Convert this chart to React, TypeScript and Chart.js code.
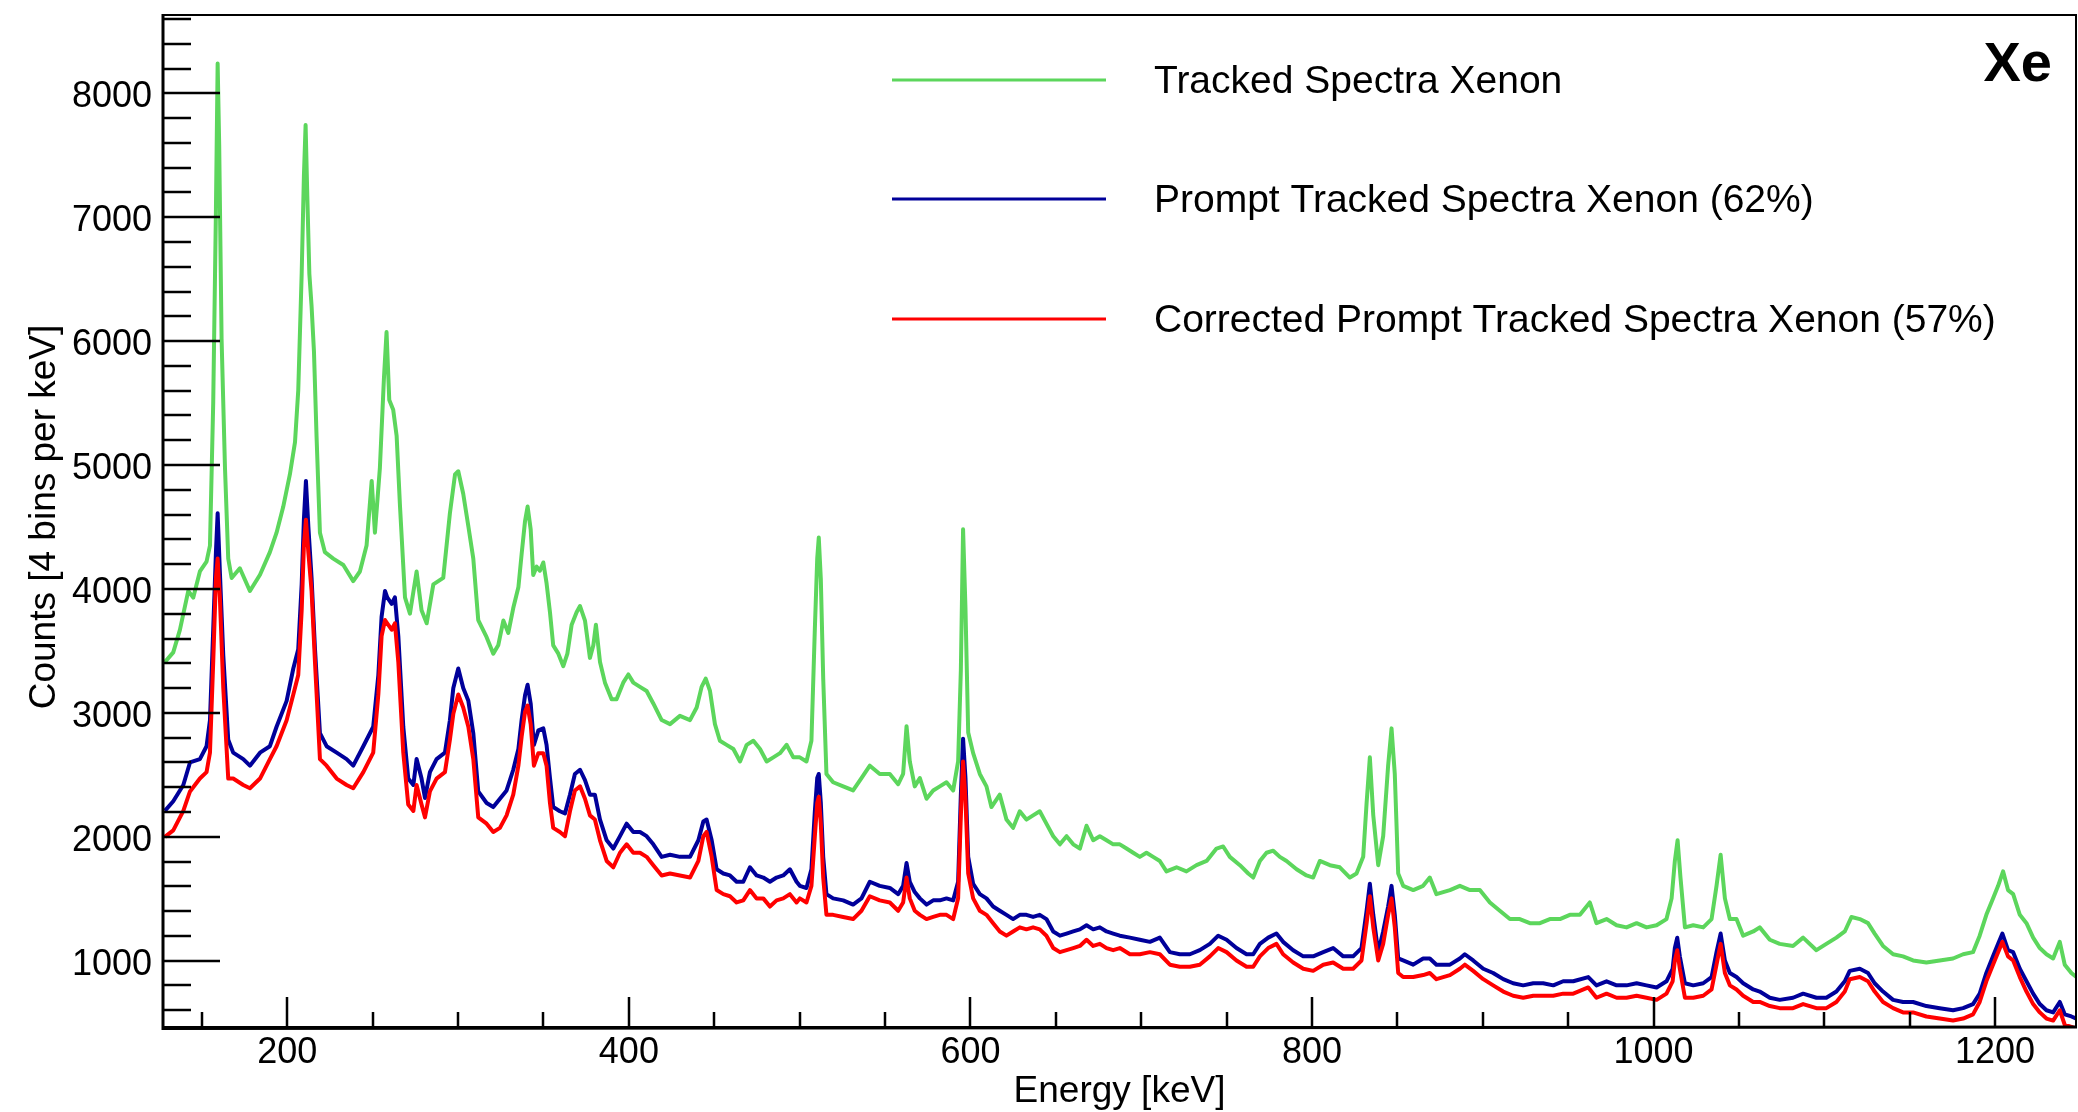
import React, { useEffect, useRef } from "react";
import { Chart, registerables } from "chart.js";

Chart.register(...registerables);

// Energy axis (keV) and counts for the full tracked spectrum
const totalEnergy = [
  128.3, 133.2, 137.1, 142.0, 144.9, 148.8, 152.7, 154.7, 156.6, 158.2,
  159.2, 160.1, 161.5, 163.5, 165.4, 167.4, 172.2, 178.1, 184.0, 189.8,
  193.7, 197.6, 201.5, 204.5, 206.4, 208.4, 209.7, 210.7, 211.7, 212.9,
  214.2, 215.6, 217.1, 219.1, 222.0, 226.9, 232.8, 238.6, 242.5, 246.4,
  249.4, 251.3, 254.2, 256.6, 258.1, 259.7, 262.0, 264.0, 266.0, 268.9,
  271.8, 275.7, 278.6, 281.6, 285.5, 291.3, 295.2, 298.2, 300.1, 303.0,
  306.0, 308.9, 311.8,
  316.7, 320.6, 323.5, 326.5, 329.4, 332.3, 335.3, 337.2, 339.2, 340.7,
  342.5, 344.0, 346.0, 347.9, 349.9, 351.8, 353.8, 355.7, 358.7, 361.6,
  364.0, 366.5, 369.4, 371.4, 374.3, 377.2, 379.2, 380.7, 383.1, 386.0,
  389.9, 392.8, 396.7, 399.7, 402.6, 406.5, 410.4, 414.3, 419.2, 424.1,
  429.9, 435.8, 439.7, 442.6, 445.0, 447.5, 450.4, 453.3, 457.2, 461.2,
  465.1, 469.0, 472.9, 476.8, 480.7, 484.6, 488.5, 492.4, 496.3,
  500.1, 504.0, 506.9, 508.9, 510.3, 511.2, 512.4, 513.8, 515.7, 519.6,
  525.5, 531.3, 536.2, 541.1, 546.9, 552.8, 557.7, 560.6, 562.6, 564.5,
  567.4, 570.4, 574.3, 578.2, 582.1, 586.0, 589.9, 592.8, 594.4, 595.7,
  597.1, 598.7, 601.6, 605.5, 609.4, 612.3, 617.2, 621.1, 625.0, 628.9,
  632.8, 636.7, 640.6, 644.5, 648.5, 652.4, 656.3, 660.2, 664.1, 668.0,
  671.9, 675.8, 679.7, 683.6,
  687.5, 691.4, 695.3, 699.2, 703.1, 707.0, 710.9, 714.8, 720.7, 726.5,
  732.4, 738.3, 744.1, 748.0, 751.9, 757.8, 762.7, 765.6, 769.5, 773.4,
  777.3, 781.2, 785.1, 791.0, 796.8, 800.7, 804.6, 810.5, 816.3, 822.2,
  826.1, 830.0, 832.0, 833.9, 835.9, 838.8, 841.7, 844.6, 846.6, 848.5,
  850.5, 853.4, 859.3, 865.1, 869.0, 872.9,
  880.8, 886.6, 892.5, 898.3, 904.2, 910.0, 915.9, 921.7, 927.6, 933.5,
  939.3, 945.2, 951.0, 956.9, 962.7, 966.6, 972.5, 978.4, 984.2, 990.1,
  995.9, 1001.8, 1007.6, 1010.6, 1012.5, 1014.1, 1015.8, 1018.4, 1023.3, 1029.1,
  1034.0, 1036.9, 1039.3, 1041.8, 1044.7, 1048.6, 1052.5, 1058.4,
  1062.2, 1068.1, 1073.9, 1081.7, 1087.6, 1095.4, 1101.2, 1107.1, 1112.0, 1115.9,
  1120.8, 1125.6, 1129.5, 1134.4, 1140.3, 1146.1, 1152.0, 1159.8, 1167.6, 1175.4,
  1181.3, 1187.1, 1191.0, 1194.9, 1198.8, 1201.8, 1204.7, 1207.6, 1210.6, 1214.5,
  1218.4, 1222.3, 1226.2, 1230.1, 1234.0, 1237.9, 1240.8, 1244.7, 1247.6,
];

const totalCounts = [
  3410, 3488, 3670, 3985, 3930, 4141, 4220, 4350, 5500, 7065,
  8240, 7587, 6020, 4976, 4245, 4089, 4167, 3984, 4115, 4297,
  4454, 4663, 4924, 5185, 5603, 6543, 7326, 7744, 7170, 6543,
  6282, 5916, 5237, 4454, 4297, 4245, 4193, 4063, 4141, 4350,
  4872, 4454, 4976, 5707, 6073, 5525, 5446, 5237, 4663, 3932,
  3801, 4141, 3828, 3723, 4037, 4089, 4611, 4924, 4950, 4768,
  4506, 4245, 3749,
  3611, 3478, 3545, 3745, 3645, 3846, 4013, 4281, 4548, 4665,
  4481, 4113, 4180, 4147, 4214, 4047, 3812, 3545, 3478, 3377,
  3478, 3712, 3812, 3862, 3745, 3444, 3545, 3712, 3411, 3244,
  3110, 3110, 3244, 3310, 3244, 3210, 3177, 3076, 2942, 2909,
  2976, 2942, 3043, 3210, 3277, 3177, 2909, 2775, 2742, 2708,
  2608, 2742, 2775, 2708, 2608, 2641, 2675, 2742, 2641,
  2641, 2608, 2775, 3678, 4247, 4415, 4080, 3277, 2507, 2440,
  2407, 2374, 2474, 2574, 2507, 2507, 2424, 2507, 2892, 2608,
  2407, 2474, 2307, 2374, 2407, 2440, 2374, 2608, 3344, 4481,
  3846, 2842, 2675, 2507, 2407, 2240, 2340, 2139, 2072, 2206,
  2139, 2173, 2206, 2106, 2005, 1939, 2005, 1939, 1905, 2089,
  1972, 2005, 1972, 1939,
  1939, 1905, 1871, 1838, 1871, 1838, 1805, 1721, 1754, 1721,
  1771, 1805, 1905, 1922, 1838, 1771, 1704, 1671, 1805, 1871,
  1888, 1838, 1805, 1738, 1688, 1671, 1805, 1771, 1754, 1671,
  1704, 1838, 2273, 2641, 2173, 1771, 2005, 2574, 2875, 2507,
  1704, 1604, 1570, 1604, 1671, 1537,
  1570, 1604, 1570, 1570, 1470, 1403, 1336, 1336, 1303, 1303,
  1336, 1336, 1370, 1370, 1470, 1303, 1336, 1286, 1269, 1303,
  1269, 1286, 1336, 1503, 1805, 1972, 1671, 1269, 1286, 1269,
  1336, 1604, 1855, 1503, 1336, 1336, 1202, 1236,
  1269, 1169, 1136, 1119, 1186, 1085, 1136, 1186, 1236, 1353,
  1336, 1303, 1219, 1119, 1052, 1035, 1002, 985, 1002, 1018,
  1052, 1069, 1202, 1370, 1503, 1604, 1721, 1570, 1537, 1370,
  1303, 1186, 1102, 1052, 1018, 1152, 968, 901, 868,
];

// Energy axis (keV) shared by the prompt and corrected prompt spectra
const promptEnergy = [
  128.3, 133.2, 139.1, 143.0, 148.8, 152.7, 154.7, 156.6, 158.2, 159.2,
  160.5, 162.5, 165.4, 168.3, 174.2, 178.1, 184.0, 189.8, 193.7, 199.6,
  203.5, 206.4, 208.4, 209.7, 210.9, 212.3, 214.2, 216.2, 219.1, 223.0,
  228.9, 234.7, 238.6, 244.5, 250.3, 253.3, 255.2, 257.2, 258.5, 261.1,
  263.0, 265.0, 267.9, 270.8, 273.8, 275.7, 278.6, 280.6, 283.5, 287.4,
  292.3, 295.2, 297.2, 300.1, 303.0, 306.0, 308.9, 311.8,
  316.7, 320.6, 324.5, 328.4, 332.3, 335.3, 337.2, 339.2, 340.7, 342.5,
  344.4, 347.0, 349.9, 351.8, 353.8, 355.7, 359.6, 362.6, 365.5, 368.4,
  371.4, 374.3, 377.2, 380.1, 383.1, 387.0, 390.9, 394.8, 398.7, 402.6,
  406.5, 410.4, 414.3, 419.2, 424.1, 429.9, 435.8, 440.7, 443.6, 445.5,
  448.5, 451.4, 455.3, 459.2, 463.1, 467.0, 470.9, 474.8, 478.7, 482.6,
  486.5, 490.4, 494.3, 498.2,
  500.1, 504.0, 506.9, 508.9, 510.3, 511.2, 512.4, 513.8, 515.7, 519.6,
  525.5, 531.3, 536.2, 541.1, 546.9, 552.8, 557.7, 560.6, 562.6, 564.5,
  567.4, 570.4, 574.3, 578.2, 582.1, 586.0, 589.9, 592.8, 594.4, 595.7,
  597.1, 598.7, 601.6, 605.5, 609.4, 613.3, 617.2, 621.1, 625.0, 628.9,
  632.8, 636.7, 640.6, 644.5, 648.5, 652.4, 656.3, 660.2, 664.1, 668.0,
  671.9, 675.8, 679.7, 683.6,
  687.5, 693.4, 699.2, 705.1, 710.9, 716.8, 722.6, 728.5, 734.3, 740.2,
  745.1, 750.0, 755.8, 761.7, 765.6, 769.5, 774.4, 779.2, 783.1, 789.0,
  794.9, 800.7, 806.6, 812.4, 818.3, 824.1, 829.0, 832.0, 833.9, 835.9,
  838.8, 841.7, 844.6, 846.6, 848.5, 850.5, 853.4, 859.3, 865.1, 869.0,
  872.9,
  880.8, 886.6, 889.5, 894.4, 900.3, 906.1, 912.0, 917.8, 923.7, 929.6,
  935.4, 941.3, 947.1, 953.0, 961.8, 966.6, 972.5, 978.4, 984.2, 990.1,
  995.9, 1001.8, 1007.6, 1011.2, 1012.5, 1013.9, 1015.4, 1018.4, 1023.3, 1029.1,
  1034.0, 1036.9, 1039.3, 1041.8, 1044.7, 1048.6, 1052.5, 1058.4,
  1062.2, 1068.1, 1073.9, 1081.7, 1087.6, 1095.4, 1101.2, 1107.1, 1112.0, 1114.9,
  1120.8, 1125.6, 1129.5, 1134.4, 1140.3, 1146.1, 1152.0, 1159.8, 1167.6, 1175.4,
  1181.3, 1187.1, 1191.0, 1194.9, 1198.8, 1201.8, 1204.3, 1207.6, 1210.6, 1214.5,
  1218.4, 1222.3, 1226.2, 1230.1, 1234.0, 1237.9, 1240.8, 1244.7, 1247.6,
];

const promptCounts = [
  2209, 2287, 2418, 2600, 2627, 2731, 2940, 3671, 4298, 4611,
  4141, 3462, 2783, 2679, 2627, 2574, 2679, 2731, 2888, 3097,
  3358, 3514, 4036, 4559, 4872, 4506, 4089, 3514, 2836, 2731,
  2679, 2627, 2574, 2731, 2888, 3305, 3775, 3984, 3932, 3880,
  3932, 3619, 2888, 2470, 2418, 2627, 2470, 2313, 2522, 2627,
  2679, 2940, 3201, 3358, 3201, 3097, 2836, 2366,
  2273, 2240, 2307, 2374, 2541, 2708, 2942, 3143, 3227, 3076,
  2742, 2859, 2875, 2742, 2474, 2240, 2206, 2189, 2340, 2507,
  2541, 2457, 2340, 2340, 2139, 1972, 1905, 2005, 2106, 2039,
  2039, 2005, 1939, 1838, 1855, 1838, 1838, 1972, 2123, 2139,
  1972, 1738, 1704, 1688, 1637, 1637, 1754, 1688, 1671, 1637,
  1671, 1688, 1738, 1637,
  1604, 1587, 1738, 2206, 2474, 2507, 2273, 1838, 1537, 1503,
  1487, 1453, 1503, 1637, 1604, 1587, 1537, 1604, 1788, 1637,
  1554, 1503, 1453, 1487, 1487, 1503, 1487, 1637, 2340, 2792,
  2474, 1838, 1621, 1537, 1503, 1437, 1403, 1370, 1336, 1370,
  1370, 1353, 1370, 1336, 1236, 1202, 1219, 1236, 1253, 1286,
  1253, 1269, 1236, 1219,
  1202, 1186, 1169, 1152, 1186, 1069, 1052, 1052, 1085, 1136,
  1202, 1169, 1102, 1052, 1052, 1136, 1186, 1219, 1152, 1085,
  1035, 1035, 1069, 1102, 1035, 1035, 1102, 1403, 1621, 1370,
  1069, 1236, 1437, 1604, 1370, 1018, 1002, 968, 1018, 1018,
  968,
  968, 1018, 1052, 1002, 935, 901, 851, 818, 801, 818,
  818, 801, 834, 834, 868, 801, 834, 801, 801, 818,
  801, 784, 834, 935, 1102, 1186, 1035, 818, 801, 818,
  868, 1069, 1219, 1002, 901, 868, 818, 768,
  751, 701, 684, 701, 734, 701, 701, 751, 834, 918,
  935, 901, 818, 751, 684, 667, 667, 634, 617, 600,
  617, 650, 734, 901, 1035, 1136, 1219, 1085, 1069, 935,
  834, 734, 650, 600, 583, 667, 567, 550, 533,
];

const correctedCounts = [
  2000, 2052, 2209, 2366, 2470, 2522, 2679, 3410, 4089, 4245,
  3932, 3201, 2470, 2470, 2418, 2392, 2470, 2627, 2731, 2940,
  3149, 3305, 3828, 4350, 4559, 4297, 3984, 3410, 2627, 2574,
  2470, 2418, 2392, 2522, 2679, 3149, 3619, 3749, 3723, 3671,
  3723, 3410, 2679, 2261, 2209, 2418, 2261, 2157, 2366, 2470,
  2522, 2783, 2992, 3149, 3044, 2888, 2627, 2157,
  2106, 2039, 2072, 2173, 2340, 2574, 2808, 3009, 3059, 2909,
  2574, 2675, 2675, 2574, 2273, 2072, 2039, 2005, 2206, 2374,
  2407, 2307, 2173, 2139, 1972, 1805, 1754, 1871, 1939, 1871,
  1871, 1838, 1771, 1688, 1704, 1688, 1671, 1805, 2005, 2039,
  1838, 1570, 1537, 1520, 1470, 1487, 1570, 1503, 1503, 1437,
  1487, 1503, 1537, 1470,
  1503, 1470, 1604, 2005, 2273, 2323, 2106, 1671, 1370, 1370,
  1353, 1336, 1403, 1520, 1487, 1470, 1403, 1470, 1671, 1503,
  1403, 1370, 1336, 1353, 1370, 1370, 1336, 1503, 2173, 2608,
  2307, 1704, 1503, 1403, 1370, 1303, 1236, 1202, 1236, 1269,
  1253, 1269, 1253, 1202, 1102, 1069, 1085, 1102, 1119, 1169,
  1119, 1136, 1102, 1085,
  1102, 1052, 1052, 1069, 1052, 968, 951, 951, 968, 1035,
  1102, 1069, 1002, 951, 951, 1035, 1102, 1136, 1052, 985,
  935, 918, 968, 985, 935, 935, 1002, 1303, 1520, 1269,
  1002, 1136, 1370, 1503, 1269, 901, 868, 868, 884, 901,
  851,
  884, 935, 968, 918, 851, 801, 751, 717, 701, 717,
  717, 717, 734, 734, 784, 701, 734, 701, 701, 717,
  701, 684, 734, 834, 1002, 1085, 935, 701, 701, 717,
  768, 968, 1136, 901, 801, 768, 717, 667,
  667, 634, 617, 617, 650, 617, 617, 667, 751, 851,
  868, 834, 751, 667, 617, 583, 583, 550, 533, 517,
  533, 567, 667, 834, 968, 1069, 1152, 1035, 1002, 868,
  751, 650, 583, 533, 517, 600, 483, 466, 450,
];

const seriesLabels = [
  "Tracked Spectra Xenon",
  "Prompt Tracked Spectra Xenon (62%)",
  "Corrected Prompt Tracked Spectra Xenon (57%)",
];
const seriesColors = ["#5cd65c", "#00009a", "#ff0000"];

const xTickLabels = [200, 400, 600, 800, 1000, 1200];
const yTickLabels = [1000, 2000, 3000, 4000, 5000, 6000, 7000, 8000];
const xMinorStep = 50;
const yMinorStep = 200;
const xLimits = [127.2, 1247.4];
const yLimits = [465, 8632];

const xTitle = "Energy [keV]";
const yTitle = "Counts [4 bins per keV]";
const cornerLabel = "Xe";

const FONT = "'Liberation Sans', Arial, Helvetica, sans-serif";

const toPoints = (xs: number[], ys: number[]) =>
  xs.map((x, i) => ({ x, y: ys[i] }));

// Frame, inward ticks, labels, titles and legend in the ROOT canvas style
const decorPlugin = {
  id: "rootDecor",
  afterDraw(chart: any) {
    const { ctx, chartArea } = chart;
    const xs = chart.scales.x;
    const ys = chart.scales.y;
    const { left, right, top, bottom } = chartArea;

    ctx.save();
    ctx.strokeStyle = "#000";
    ctx.fillStyle = "#000";
    ctx.lineCap = "butt";

    // frame
    ctx.lineWidth = 2;
    ctx.strokeRect(left, top, right - left, bottom - top);

    // axis lines
    ctx.lineWidth = 3;
    ctx.beginPath();
    ctx.moveTo(left, top - 1);
    ctx.lineTo(left, bottom + 1.5);
    ctx.lineTo(right + 1, bottom);
    ctx.stroke();

    // y ticks
    ctx.lineWidth = 2.5;
    ctx.beginPath();
    for (
      let v = Math.ceil(yLimits[0] / yMinorStep) * yMinorStep;
      v <= yLimits[1];
      v += yMinorStep
    ) {
      const y = Math.round(ys.getPixelForValue(v));
      const len = v % 1000 === 0 ? 57 : 28;
      ctx.moveTo(left, y);
      ctx.lineTo(left + len, y);
    }
    // x ticks
    for (
      let v = Math.ceil(xLimits[0] / xMinorStep) * xMinorStep;
      v <= xLimits[1];
      v += xMinorStep
    ) {
      const x = Math.round(xs.getPixelForValue(v));
      const len = v % 200 === 0 ? 30 : 15;
      ctx.moveTo(x, bottom);
      ctx.lineTo(x, bottom - len);
    }
    ctx.stroke();

    // tick labels
    ctx.font = `36px ${FONT}`;
    ctx.textAlign = "right";
    ctx.textBaseline = "alphabetic";
    yTickLabels.forEach((v) => {
      ctx.fillText(String(v), left - 11, ys.getPixelForValue(v) + 14);
    });
    ctx.textAlign = "center";
    xTickLabels.forEach((v) => {
      ctx.fillText(String(v), xs.getPixelForValue(v), bottom + 36);
    });

    // axis titles
    ctx.font = `37px ${FONT}`;
    ctx.textAlign = "center";
    ctx.fillText(xTitle, (left + right) / 2, bottom + 75);
    ctx.save();
    ctx.translate(55, (top + bottom) / 2 - 4);
    ctx.rotate(-Math.PI / 2);
    ctx.fillText(yTitle, 0, 0);
    ctx.restore();

    // legend
    const legendRows = [80, 199, 319];
    ctx.font = `39px ${FONT}`;
    ctx.textAlign = "left";
    seriesLabels.forEach((label, i) => {
      const y = legendRows[i];
      ctx.strokeStyle = seriesColors[i];
      ctx.lineWidth = 3;
      ctx.beginPath();
      ctx.moveTo(892, y);
      ctx.lineTo(1106, y);
      ctx.stroke();
      ctx.fillStyle = "#000";
      ctx.fillText(label, 1154, y + 13);
    });

    // corner label
    ctx.font = `bold 56px ${FONT}`;
    ctx.textAlign = "right";
    ctx.fillText(cornerLabel, 2052, 81);

    ctx.restore();
  },
};

export default function App() {
  const canvasRef = useRef<HTMLCanvasElement | null>(null);

  useEffect(() => {
    const canvas = canvasRef.current;
    if (!canvas) return;
    const lineStyle = {
      borderWidth: 4,
      pointRadius: 0,
      tension: 0,
      fill: false,
      borderJoinStyle: "round" as const,
    };
    const chart = new Chart(canvas, {
      type: "line",
      data: {
        datasets: [
          {
            label: seriesLabels[0],
            data: toPoints(totalEnergy, totalCounts),
            borderColor: seriesColors[0],
            order: 2,
            ...lineStyle,
          },
          {
            label: seriesLabels[1],
            data: toPoints(promptEnergy, promptCounts),
            borderColor: seriesColors[1],
            order: 1,
            ...lineStyle,
          },
          {
            label: seriesLabels[2],
            data: toPoints(promptEnergy, correctedCounts),
            borderColor: seriesColors[2],
            order: 0,
            ...lineStyle,
          },
        ],
      },
      options: {
        animation: false,
        responsive: false,
        devicePixelRatio: 1,
        layout: { padding: { top: 15, right: 2, left: 0, bottom: 0 } },
        plugins: {
          legend: { display: false },
          tooltip: { enabled: false },
        },
        scales: {
          x: {
            type: "linear",
            min: xLimits[0],
            max: xLimits[1],
            grid: { display: false },
            border: { display: false },
            ticks: { display: false },
            afterFit: (s: any) => {
              s.height = 85;
            },
          },
          y: {
            type: "linear",
            min: yLimits[0],
            max: yLimits[1],
            grid: { display: false },
            border: { display: false },
            ticks: { display: false },
            afterFit: (s: any) => {
              s.width = 163;
            },
          },
        },
      },
      plugins: [decorPlugin],
    });
    return () => chart.destroy();
  }, []);

  return (
    <div
      style={{
        position: "fixed",
        left: 0,
        top: 0,
        width: 2078,
        height: 1112,
        background: "#fff",
      }}
    >
      <canvas
        ref={canvasRef}
        width={2078}
        height={1112}
        style={{ display: "block", width: 2078, height: 1112 }}
      />
    </div>
  );
}
